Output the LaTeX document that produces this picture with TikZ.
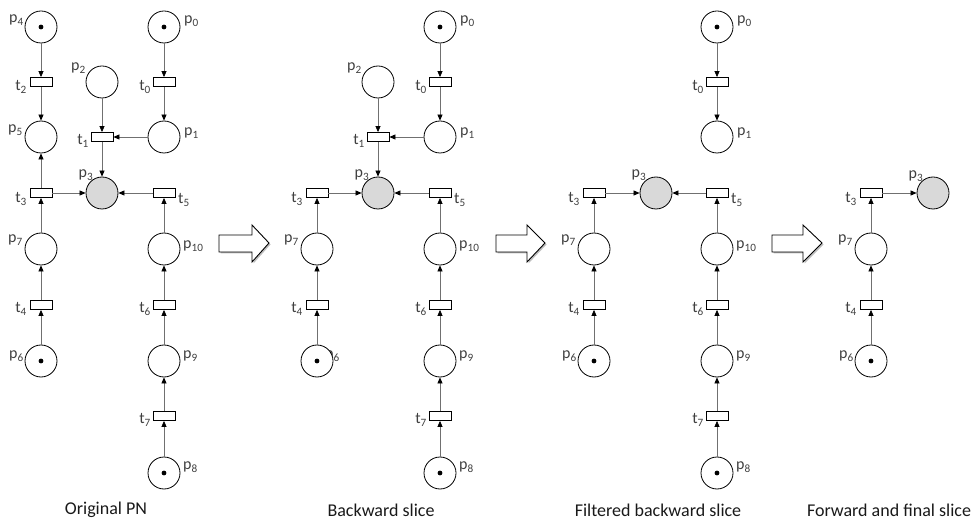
\documentclass[tikz,border=0pt]{standalone}
\usepackage{fontspec}
\setmainfont{Carlito}
\usetikzlibrary{arrows.meta}
\definecolor{arcgray}{HTML}{707070}
\definecolor{labgray}{HTML}{404040}
\definecolor{goalfill}{HTML}{D9D9D9}
\tikzset{
  place/.style={circle,draw=black,line width=0.8pt,minimum size=32pt,inner sep=0pt,fill=white},
  goal/.style={place,fill=goalfill},
  marked/.style={path picture={\fill[black] (path picture bounding box.center) circle (2.4pt);}},
  trans/.style={rectangle,draw=black,line width=0.8pt,minimum width=22pt,minimum height=9pt,inner sep=0pt,fill=white},
  lab/.style={font=\fontsize{16}{16}\selectfont,text=labgray,inner sep=0pt},
  captext/.style={font=\fontsize{18}{18}\selectfont,text=black!90,inner sep=0pt},
  arc/.style={draw=arcgray,line width=0.7pt,-{Triangle[length=6pt,width=5pt,color=black]}},
  bigarrow/.style={draw=black,line width=0.9pt,fill=white,line join=miter}
}
\newcommand\mkplace[4][]{\node[place,#1] (#2) at (#3,#4) {};}
\newcommand\mktrans[3]{\node[trans] (#1) at (#2,#3) {};}
\newcommand\mklab[5]{\node[lab,anchor=#4] (#1) at (#2,#3) {#5};}
\begin{document}
\begin{tikzpicture}[x=1pt,y=-1pt]
\useasboundingbox (0,0) rectangle (980,521);
% ---------------- Panel 1: Original PN ----------------
\begin{scope}[name prefix=a-]
\mkplace[marked]{p4}{41}{27}
\mkplace[marked]{p0}{164}{27}
\mkplace{p2}{102}{82}
\mkplace{p5}{41}{137}
\mkplace{p1}{164}{137}
\mkplace[goal]{p3}{102}{193}
\mkplace{p7}{41}{249}
\mkplace{p10}{164}{249}
\mkplace[marked]{p6}{41}{361}
\mkplace{p9}{164}{361}
\mkplace[marked]{p8}{164}{473}
\mktrans{t2}{41}{82}
\mktrans{t0}{164}{82}
\mktrans{t1}{102}{137}
\mktrans{t3}{41}{193}
\mktrans{t5}{164}{193}
\mktrans{t4}{41}{305}
\mktrans{t6}{164}{305}
\mktrans{t7}{164}{416}
\mklab{lp4}{24}{20}{east}{p\textsubscript{4}}
\mklab{lp0}{184}{21}{west}{p\textsubscript{0}}
\mklab{lp2}{86}{68}{east}{p\textsubscript{2}}
\mklab{lp5}{23}{130}{east}{p\textsubscript{5}}
\mklab{lp1}{184}{133}{west}{p\textsubscript{1}}
\mklab{lp3}{86}{175}{center}{p\textsubscript{3}}
\mklab{lp7}{23}{240}{east}{p\textsubscript{7}}
\mklab{lp10}{183}{246}{west}{p\textsubscript{10}}
\mklab{lp6}{24}{356}{east}{p\textsubscript{6}}
\mklab{lp9}{183}{356}{west}{p\textsubscript{9}}
\mklab{lp8}{183}{467}{west}{p\textsubscript{8}}
\mklab{lt2}{27}{87}{east}{t\textsubscript{2}}
\mklab{lt0}{151}{87}{east}{t\textsubscript{0}}
\mklab{lt1}{89}{141}{east}{t\textsubscript{1}}
\mklab{lt3}{27}{199}{east}{t\textsubscript{3}}
\mklab{lt5}{178}{200}{west}{t\textsubscript{5}}
\mklab{lt4}{27}{309}{east}{t\textsubscript{4}}
\mklab{lt6}{151}{309}{east}{t\textsubscript{6}}
\mklab{lt7}{151}{420}{east}{t\textsubscript{7}}
\draw[arc] (p4) -- (t2);
\draw[arc] (t2) -- (p5);
\draw[arc] (p0) -- (t0);
\draw[arc] (t0) -- (p1);
\draw[arc] (p2) -- (t1);
\draw[arc] (p1) -- (t1);
\draw[arc] (t1) -- (p3);
\draw[arc] (t3) -- (p5);
\draw[arc] (t3) -- (p3);
\draw[arc] (t5) -- (p3);
\draw[arc] (p7) -- (t3);
\draw[arc] (p10) -- (t5);
\draw[arc] (t4) -- (p7);
\draw[arc] (p6) -- (t4);
\draw[arc] (t6) -- (p10);
\draw[arc] (p9) -- (t6);
\draw[arc] (t7) -- (p9);
\draw[arc] (p8) -- (t7);
\node[captext] (caption) at (106,510) {Original PN};
\end{scope}
% ---------------- Panel 2: Backward slice ----------------
\begin{scope}[xshift=276pt,name prefix=b-]
\mklab{lp6}{49}{356}{west}{p\textsubscript{6}}
\mkplace[marked]{p0}{164}{27}
\mkplace{p2}{102}{82}
\mkplace{p1}{164}{137}
\mkplace[goal]{p3}{102}{193}
\mkplace{p7}{41}{249}
\mkplace{p10}{164}{249}
\mkplace[marked]{p6}{41}{361}
\mkplace{p9}{164}{361}
\mkplace[marked]{p8}{164}{473}
\mktrans{t0}{164}{82}
\mktrans{t1}{102}{137}
\mktrans{t3}{41}{193}
\mktrans{t5}{164}{193}
\mktrans{t4}{41}{305}
\mktrans{t6}{164}{305}
\mktrans{t7}{164}{416}
\mklab{lp0}{184}{21}{west}{p\textsubscript{0}}
\mklab{lp2}{86}{68}{east}{p\textsubscript{2}}
\mklab{lp1}{184}{133}{west}{p\textsubscript{1}}
\mklab{lp3}{86}{175}{center}{p\textsubscript{3}}
\mklab{lp7}{23}{240}{east}{p\textsubscript{7}}
\mklab{lp10}{183}{246}{west}{p\textsubscript{10}}
\mklab{lp9}{183}{356}{west}{p\textsubscript{9}}
\mklab{lp8}{183}{467}{west}{p\textsubscript{8}}
\mklab{lt0}{151}{87}{east}{t\textsubscript{0}}
\mklab{lt1}{89}{141}{east}{t\textsubscript{1}}
\mklab{lt3}{27}{199}{east}{t\textsubscript{3}}
\mklab{lt5}{178}{200}{west}{t\textsubscript{5}}
\mklab{lt4}{27}{309}{east}{t\textsubscript{4}}
\mklab{lt6}{151}{309}{east}{t\textsubscript{6}}
\mklab{lt7}{151}{420}{east}{t\textsubscript{7}}
\draw[arc] (p0) -- (t0);
\draw[arc] (t0) -- (p1);
\draw[arc] (p2) -- (t1);
\draw[arc] (p1) -- (t1);
\draw[arc] (t1) -- (p3);
\draw[arc] (t3) -- (p3);
\draw[arc] (t5) -- (p3);
\draw[arc] (p7) -- (t3);
\draw[arc] (p10) -- (t5);
\draw[arc] (t4) -- (p7);
\draw[arc] (p6) -- (t4);
\draw[arc] (t6) -- (p10);
\draw[arc] (p9) -- (t6);
\draw[arc] (t7) -- (p9);
\draw[arc] (p8) -- (t7);
\node[captext] (caption) at (105,510) {Backward slice};
\end{scope}
% ---------------- Panel 3: Filtered backward slice ----------------
\begin{scope}[xshift=553pt,name prefix=c-]
\mkplace[marked]{p0}{164}{27}
\mkplace{p1}{164}{137}
\mkplace[goal]{p3}{103}{193}
\mkplace{p7}{41}{249}
\mkplace{p10}{164}{249}
\mkplace[marked]{p6}{41}{361}
\mkplace{p9}{164}{361}
\mkplace[marked]{p8}{164}{473}
\mktrans{t0}{164}{82}
\mktrans{t3}{41}{193}
\mktrans{t5}{164}{193}
\mktrans{t4}{41}{305}
\mktrans{t6}{164}{305}
\mktrans{t7}{164}{416}
\mklab{lp0}{184}{21}{west}{p\textsubscript{0}}
\mklab{lp1}{184}{133}{west}{p\textsubscript{1}}
\mklab{lp3}{86}{175}{center}{p\textsubscript{3}}
\mklab{lp7}{23}{240}{east}{p\textsubscript{7}}
\mklab{lp10}{183}{246}{west}{p\textsubscript{10}}
\mklab{lp6}{24}{356}{east}{p\textsubscript{6}}
\mklab{lp9}{183}{356}{west}{p\textsubscript{9}}
\mklab{lp8}{183}{467}{west}{p\textsubscript{8}}
\mklab{lt0}{151}{87}{east}{t\textsubscript{0}}
\mklab{lt3}{27}{199}{east}{t\textsubscript{3}}
\mklab{lt5}{178}{200}{west}{t\textsubscript{5}}
\mklab{lt4}{27}{309}{east}{t\textsubscript{4}}
\mklab{lt6}{151}{309}{east}{t\textsubscript{6}}
\mklab{lt7}{151}{420}{east}{t\textsubscript{7}}
\draw[arc] (p0) -- (t0);
\draw[arc] (t0) -- (p1);
\draw[arc] (t3) -- (p3);
\draw[arc] (t5) -- (p3);
\draw[arc] (p7) -- (t3);
\draw[arc] (p10) -- (t5);
\draw[arc] (t4) -- (p7);
\draw[arc] (p6) -- (t4);
\draw[arc] (t6) -- (p10);
\draw[arc] (p9) -- (t6);
\draw[arc] (t7) -- (p9);
\draw[arc] (p8) -- (t7);
\node[captext] (caption) at (105,510) {Filtered backward slice};
\end{scope}
% ---------------- Panel 4: Forward and final slice ----------------
\begin{scope}[xshift=830pt,name prefix=d-]
\mkplace[goal]{p3}{103}{193}
\mkplace{p7}{41}{249}
\mkplace[marked]{p6}{41}{361}
\mktrans{t3}{41}{193}
\mktrans{t4}{41}{305}
\mklab{lp3}{86}{176}{center}{p\textsubscript{3}}
\mklab{lp7}{23}{240}{east}{p\textsubscript{7}}
\mklab{lp6}{24}{356}{east}{p\textsubscript{6}}
\mklab{lt3}{27}{199}{east}{t\textsubscript{3}}
\mklab{lt4}{27}{309}{east}{t\textsubscript{4}}
\draw[arc] (t3) -- (p3);
\draw[arc] (p7) -- (t3);
\draw[arc] (t4) -- (p7);
\draw[arc] (p6) -- (t4);
\node[captext] (caption) at (59,510) {Forward and final slice};
\end{scope}
% ---------------- block arrows ----------------
\foreach \xa/\xb/\xc in {219/252/269, 496/527/545, 772/803/822}{
  \fill[black!25] (\xa+1.5,236.5) -- (\xb+1.5,236.5) -- (\xb+1.5,226.5) -- (\xc+1.5,244.5) -- (\xb+1.5,263.5) -- (\xb+1.5,253.5) -- (\xa+1.5,253.5) -- cycle;
  \draw[bigarrow] (\xa,235) -- (\xb,235) -- (\xb,225) -- (\xc,243) -- (\xb,262) -- (\xb,252) -- (\xa,252) -- cycle;
}
\end{tikzpicture}
\end{document}
